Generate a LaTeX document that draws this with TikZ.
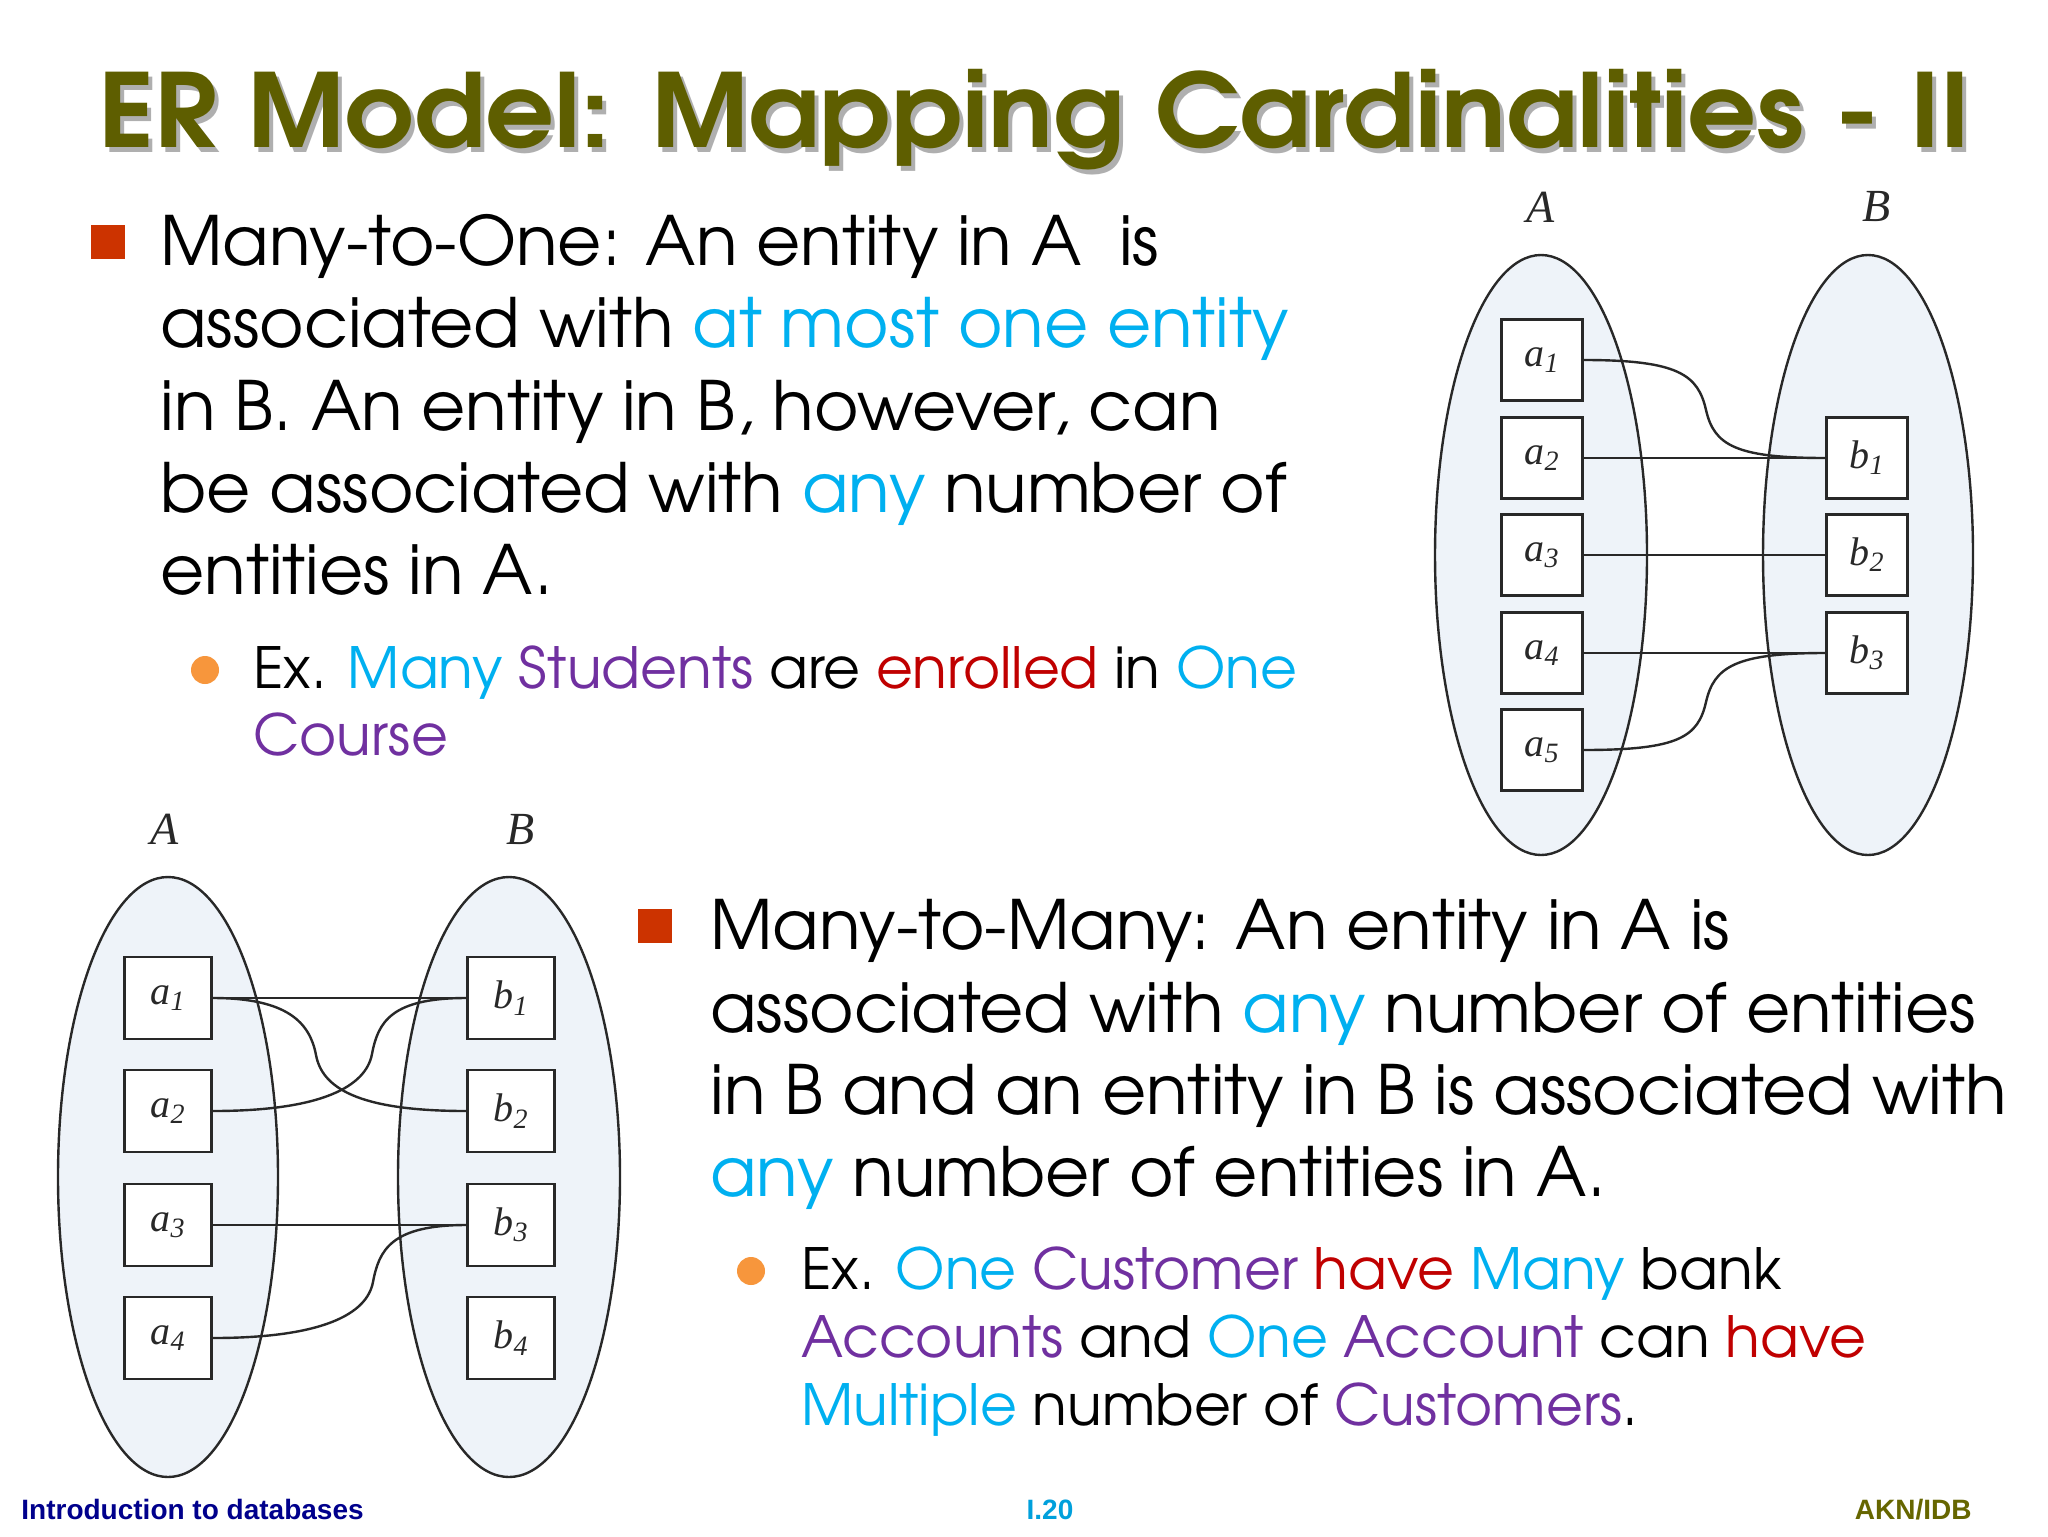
\documentclass[tikz,border=0pt]{standalone}
\usepackage{fontspec}
\setmainfont{texgyreadventor}[Extension=.otf, UprightFont=*-regular, BoldFont=*-bold, ItalicFont=*-italic, BoldItalicFont=*-bolditalic]
\newfontfamily\footfont{Liberation Sans}
\newfontfamily\labfont{Liberation Serif}
\usetikzlibrary{shapes.geometric}
\definecolor{titleol}{RGB}{94,94,0}
\definecolor{shadowg}{RGB}{175,175,175}
\definecolor{cyanx}{RGB}{0,176,240}
\definecolor{purp}{RGB}{112,48,160}
\definecolor{redx}{RGB}{192,0,0}
\definecolor{sqred}{RGB}{204,51,0}
\definecolor{dotor}{RGB}{247,150,60}
\definecolor{ellfill}{RGB}{238,243,249}
\definecolor{footblue}{RGB}{0,0,140}
\definecolor{footcyan}{RGB}{0,160,220}
\definecolor{footol}{RGB}{102,102,0}
\definecolor{lineg}{RGB}{40,40,40}
\tikzset{
  titletxt/.style={anchor=base west, inner sep=0, font=\bfseries\fontsize{51}{60}\selectfont},
  txt/.style={anchor=base west, inner sep=0, font=\fontsize{34}{41}\selectfont},
  subtxt/.style={anchor=base west, inner sep=0, font=\fontsize{28.4}{34}\selectfont},
  sqbul/.style={rectangle, fill=sqred, minimum size=17pt, inner sep=0},
  dotbul/.style={circle, fill=dotor, minimum size=14pt, inner sep=0},
  setell/.style={ellipse, draw=lineg, line width=1.2pt, fill=ellfill, inner sep=0},
  setlab/.style={inner sep=0, font=\labfont\itshape\fontsize{23}{25}\selectfont, text=lineg},
  entbox/.style={rectangle, draw=lineg, line width=1.3pt, fill=white, inner sep=0, text=lineg, font=\labfont\itshape\fontsize{20}{22}\selectfont},
  conn/.style={draw=lineg, line width=1.2pt},
  foot/.style={anchor=base, inner sep=0, font=\footfont\bfseries\fontsize{14}{16}\selectfont}
}
\newcommand{\ent}[2]{#1\textsubscript{#2}}
\newcommand{\ttl}{\scalebox{1.06}[1]{ER Model: Mapping Cardinalities - II}}
\begin{document}
\begin{tikzpicture}[x=0.5pt,y=-0.5pt]
\useasboundingbox (0,0) rectangle (2048,1536);
\fill[white] (0,0) rectangle (2048,1536);
% title
\node[titletxt, text=shadowg] (titleshadow) at (102,152) {\ttl};
\node[titletxt, text=titleol] (title) at (98,148) {\ttl};
% top text block
\node[sqbul] (q1) at (108,242) {};
\node[txt] (t1) at (160,265) {Many-to-One: An entity in A\ \ is};
\node[txt] (t2) at (160,347) {associated with \textcolor{cyanx}{at most one entity}};
\node[txt] (t3) at (160,430) {in B. An entity in B, however, can};
\node[txt] (t4) at (160,512) {be associated with \textcolor{cyanx}{any} number of};
\node[txt] (t5) at (160,594) {entities in A.};
\node[dotbul] (d1) at (205,670) {};
\node[subtxt] (s1) at (253,688) {Ex. \textcolor{cyanx}{Many} \textcolor{purp}{Students} are \textcolor{redx}{enrolled} in \textcolor{cyanx}{One}};
\node[subtxt] (s2) at (253,755) {\textcolor{purp}{Course}};
% bottom text block
\node[sqbul] (q2) at (655,926) {};
\node[txt] (u1) at (710,949) {Many-to-Many: An entity in A is};
\node[txt] (u2) at (710,1032) {associated with \textcolor{cyanx}{any} number of entities};
\node[txt] (u3) at (710,1114) {in B and an entity in B is associated with};
\node[txt] (u4) at (710,1196) {\textcolor{cyanx}{any} number of entities in A.};
\node[dotbul] (d2) at (751,1271) {};
\node[subtxt] (v1) at (801,1289) {Ex. \textcolor{cyanx}{One} \textcolor{purp}{Customer} \textcolor{redx}{have} \textcolor{cyanx}{Many} bank};
\node[subtxt] (v2) at (801,1357) {\textcolor{purp}{Accounts} and \textcolor{cyanx}{One} \textcolor{purp}{Account} can \textcolor{redx}{have}};
\node[subtxt] (v3) at (801,1425) {\textcolor{cyanx}{Multiple} number of \textcolor{purp}{Customers}.};
% top-right diagram (many-to-one)
\node[setlab] (tA) at (1541,207) {A};
\node[setlab] (tB) at (1877,207) {B};
\node[setell, minimum width=106pt, minimum height=300pt] (tsetA) at (1541,555) {};
\node[setell, minimum width=105pt, minimum height=300pt] (tsetB) at (1868,555) {};
\foreach \i/\y in {1/360,2/458,3/555,4/653,5/750}
  \node[entbox, minimum width=40.5pt, minimum height=40.5pt] (ta\i) at (1542,\y) {\ent{a}{\i}};
\foreach \i/\y in {1/458,2/555,3/653}
  \node[entbox, minimum width=40.5pt, minimum height=40.5pt] (tb\i) at (1867,\y) {\ent{b}{\i}};
\draw[conn] (ta1.east) .. controls +(95,0) and +(-8,-35) .. (1706,410) .. controls +(8,35) and +(-90,0) .. (tb1.west);
\draw[conn] (ta2.east) -- (tb1.west);
\draw[conn] (ta3.east) -- (tb2.west);
\draw[conn] (ta4.east) -- (tb3.west);
\draw[conn] (ta5.east) .. controls +(95,0) and +(-8,35) .. (1706,702) .. controls +(8,-35) and +(-90,0) .. (tb3.west);
% bottom-left diagram (many-to-many)
\node[setlab] (bA) at (165,829) {A};
\node[setlab] (bB) at (521,829) {B};
\node[setell, minimum width=110pt, minimum height=300pt] (bsetA) at (168,1177) {};
\node[setell, minimum width=111pt, minimum height=300pt] (bsetB) at (509,1177) {};
\foreach \i/\y in {1/998,2/1111,3/1225,4/1338}
  \node[entbox, minimum width=43.5pt, minimum height=41pt] (ba\i) at (168,\y) {\ent{a}{\i}};
\foreach \i/\y in {1/998,2/1111,3/1225,4/1338}
  \node[entbox, minimum width=43.5pt, minimum height=41pt] (bb\i) at (511,\y) {\ent{b}{\i}};
\draw[conn] (ba1.east) -- (bb1.west);
\draw[conn] (ba1.east) .. controls +(75,0) and +(-6,-32) .. (316,1055) .. controls +(6,32) and +(-110,0) .. (bb2.west);
\draw[conn] (ba2.east) .. controls +(110,0) and +(-6,32) .. (372,1054) .. controls +(6,-32) and +(-75,0) .. (bb1.west);
\draw[conn] (ba3.east) -- (bb3.west);
\draw[conn] (ba4.east) .. controls +(110,0) and +(-6,32) .. (373,1282) .. controls +(6,-32) and +(-75,0) .. (bb3.west);
% footer
\node[foot, text=footblue, anchor=base west] (f1) at (21,1519) {Introduction to databases};
\node[foot, text=footcyan] (f2) at (1050,1519) {I.20};
\node[foot, text=footol, anchor=base east] (f3) at (1972,1519) {AKN/IDB};
\end{tikzpicture}
\end{document}
